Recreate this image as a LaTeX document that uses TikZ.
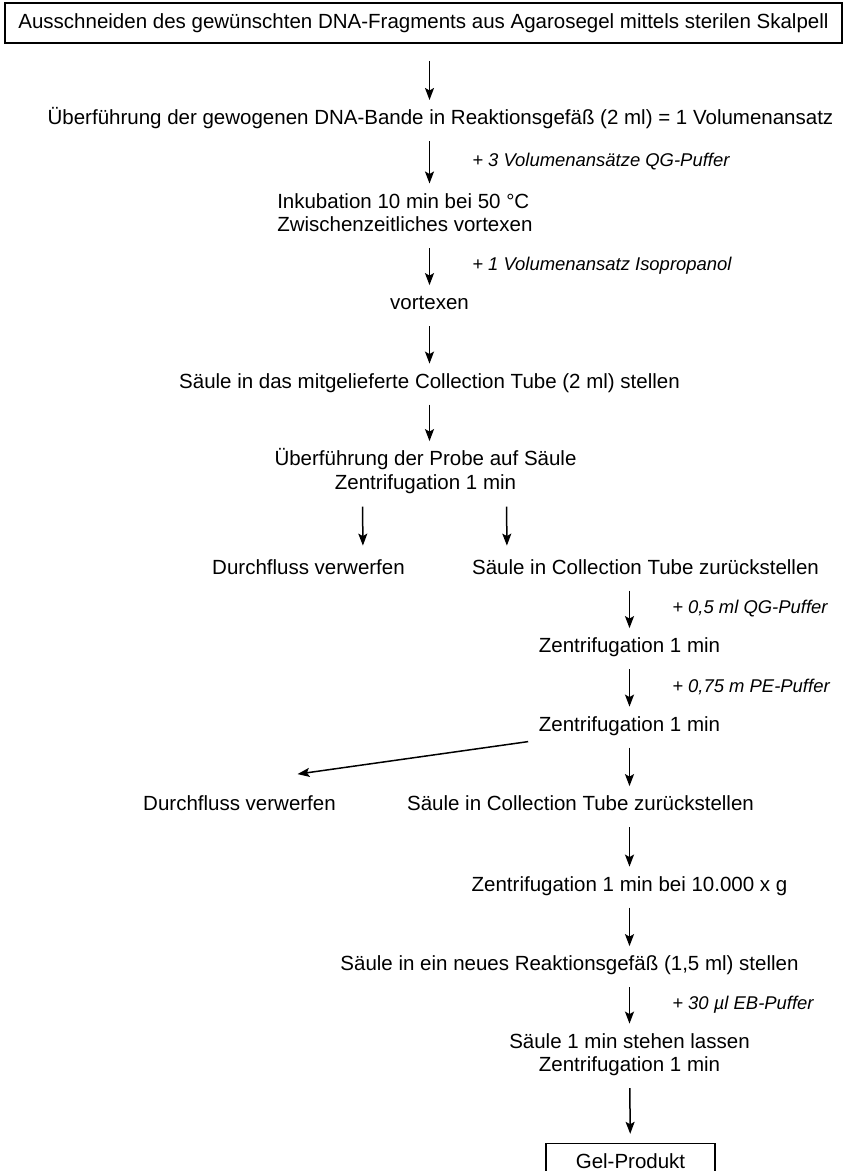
\documentclass[tikz,border=0pt]{standalone}
\usepackage{fontspec}
\setmainfont{Liberation Sans}
\usetikzlibrary{arrows.meta,positioning}

\begin{document}
\begin{tikzpicture}[x=1pt,y=-1pt,->,>={Stealth[length=12pt,width=9pt,inset=2.5pt]},
                    line width=1.5pt,node distance=59pt,
                    txt/.style={inner sep=0pt,text height=15pt,text depth=4.5pt,
                                font=\fontsize{20.5}{23.6}\selectfont},
                    two/.style={txt,align=center,text height=38.6pt},
                    frame/.style={txt,draw,inner ysep=10.25pt},
                    hint/.style={inner sep=0pt,right=42pt,
                                 font=\fontsize{18.45}{21}\selectfont\itshape},
                    flow/.style={shorten <=11pt,shorten >=9pt}]

  \useasboundingbox (0,0) rectangle (847,1171);

  \node[frame,minimum width=837pt] (cut) at (423.5,23)
    {Ausschneiden des gewünschten DNA-Fragments aus Agarosegel mittels sterilen Skalpell};
  \node[txt]  (bande)  [below=65.25pt of cut,xshift=17pt]
    {Überführung der gewogenen DNA-Bande in Reaktionsgefäß (2 ml) = 1 Volumenansatz};
  \node[two,align=left] (inku) [below=62.5pt of bande,anchor=north west,xshift=-164pt]
    {Inkubation 10 min bei 50 °C\\Zwischenzeitliches vortexen};
  \node[txt]  (vortex) [below=57pt of inku.south west,xshift=153pt] {vortexen};
  \node[txt]  (saeule) [below=57.5pt of vortex]
    {Säule in das mitgelieferte Collection Tube (2 ml) stellen};
  \node[two]  (probe)  [below=56.5pt of saeule,xshift=-4pt]
    {Überführung der Probe auf Säule\\Zentrifugation 1 min};

  \node[txt]  (durch1)   [below=63.9pt of probe,xshift=-117pt] {Durchfluss verwerfen};
  \node[txt]  (zurueck1) [below=63.9pt of probe,xshift=220pt]
    {Säule in Collection Tube zurückstellen};
  \node[txt]  (zentr1)   [below=57.5pt of zurueck1,xshift=-16pt] {Zentrifugation 1 min};
  \node[txt]  (zentr2)   [below=57.5pt of zentr1] {Zentrifugation 1 min};
  \node[txt]  (durch2)   [below=58.5pt of zentr2,xshift=-390pt] {Durchfluss verwerfen};
  \node[txt]  (zurueck2) [below=58.5pt of zentr2,xshift=-49pt]
    {Säule in Collection Tube zurückstellen};
  \node[txt]  (zentr3)   [below=59.5pt of zurueck2,xshift=49pt]
    {Zentrifugation 1 min bei 10.000 x g};
  \node[txt]  (neu)      [below=58.5pt of zentr3,xshift=-60pt]
    {Säule in ein neues Reaktionsgefäß (1,5 ml) stellen};
  \node[two]  (stehen)   [below=56.5pt of neu,xshift=60pt]
    {Säule 1 min stehen lassen\\Zentrifugation 1 min};
  \node[frame,minimum width=169pt] (gel) [below=65.6pt of stehen,xshift=1pt] {Gel-Produkt};

  % main column
  \draw[flow,shorten <=17pt] (cut.south -| vortex) -- (bande.north -| vortex);
  \draw[flow] (bande.south -| vortex) -- (inku.north -| vortex)
    node[hint,midway] (qg) {+ 3 Volumenansätze QG-Puffer};
  \draw[flow] (inku.south -| vortex) -- (vortex)
    node[hint,midway] (iso) {+ 1 Volumenansatz Isopropanol};
  \draw[flow] (vortex) -- (saeule);
  \draw[flow] (saeule.south -| vortex) -- (probe.north -| vortex);

  % split after first spin
  \draw[flow,shorten <=12pt,shorten >=13pt] ([xshift=-63pt]probe.south) -- (durch1.north -| {(363,0)});
  \draw[flow,shorten <=12pt,shorten >=13pt] ([xshift=81pt]probe.south) -- (zurueck1.north -| {(507,0)});

  % right column
  \draw[flow] (zurueck1.south -| zentr1) -- (zentr1)
    node[hint,midway] (qg2) {+ 0,5 ml QG-Puffer};
  \draw[flow] (zentr1) -- (zentr2)
    node[hint,midway] (pe) {+ 0,75 m PE-Puffer};
  \draw ([xshift=-10pt,yshift=-5pt]zentr2.south west) -- ([xshift=58pt,yshift=21pt]durch2.north);
  \draw[flow] (zentr2) -- (zurueck2.north -| zentr2);
  \draw[flow] (zurueck2.south -| zentr3) -- (zentr3);
  \draw[flow] (zentr3) -- (neu.north -| zentr3);
  \draw[flow] (neu.south -| stehen) -- (stehen)
    node[hint,midway] (eb) {+ 30 µl EB-Puffer};
  \draw[flow] (stehen) -- (gel);
\end{tikzpicture}
\end{document}
